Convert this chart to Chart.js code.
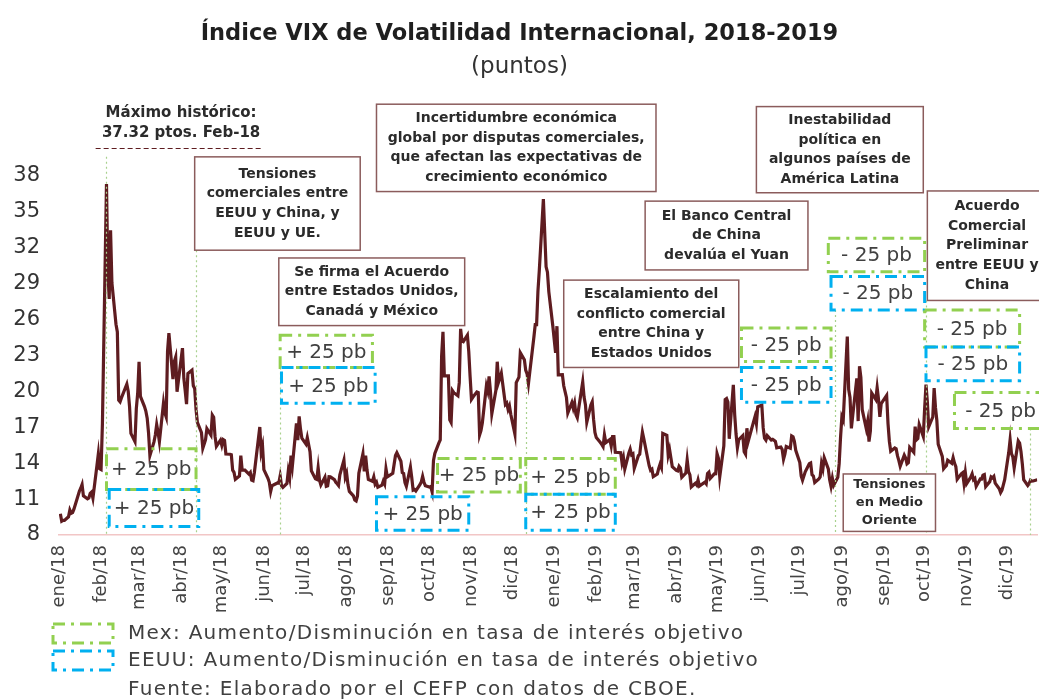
<!DOCTYPE html>
<html>
<head>
<meta charset="utf-8">
<script src="https://cdn.jsdelivr.net/npm/chart.js@4.4.1/dist/chart.umd.min.js"></script>
<style>
  html, body { margin: 0; padding: 0; background: #fff; }
  #wrap { width: 1039px; height: 700px; }
</style>
</head>
<body>
<div id="wrap"><canvas id="vix"></canvas></div>
<script>
// dias de cotizacion por mes (2018) y cierre del VIX
var dias2018 = [
  [2,3,4,5,8,9,10,11,12,16,17,18,19,22,23,24,25,26,29,30,31],
  [1,2,5,6,7,8,9,12,13,14,15,16,20,21,22,23,26,27,28],
  [1,2,5,6,7,8,9,12,13,14,15,16,19,20,21,22,23,26,27,28,29],
  [2,3,4,5,6,9,10,11,12,13,16,17,18,19,20,23,24,25,26,27,30],
  [1,2,3,4,7,8,9,10,11,14,15,16,17,18,21,22,23,24,25,29,30,31],
  [1,4,5,6,7,8,11,12,13,14,15,18,19,20,21,22,25,26,27,28,29],
  [2,3,5,6,9,10,11,12,13,16,17,18,19,20,23,24,25,26,27,30,31],
  [1,2,3,6,7,8,9,10,13,14,15,16,17,20,21,22,23,24,27,28,29,30,31],
  [4,5,6,7,10,11,12,13,14,17,18,19,20,21,24,25,26,27,28],
  [1,2,3,4,5,8,9,10,11,12,15,16,17,18,19,22,23,24,25,26,29,30,31],
  [1,2,5,6,7,8,9,12,13,14,15,16,19,20,21,23,26,27,28,29,30],
  [3,4,6,7,10,11,12,13,14,17,18,19,20,21,24,26,27,28,31]
];
var vix2018 = [
  [9.77,9.15,9.22,9.22,9.52,10.08,9.82,9.88,10.16,11.66,11.91,12.22,11.27,11.03,11.10,11.47,11.58,11.08,13.84,14.79,13.54],
  [13.47,17.31,37.32,29.98,27.73,33.46,29.06,25.61,24.97,19.26,19.13,19.46,20.60,20.02,18.72,16.49,15.80,18.59,19.85],
  [22.47,19.59,18.73,18.36,17.76,16.54,14.64,15.78,16.35,17.23,16.59,15.80,19.02,18.20,17.86,23.34,24.87,21.03,22.50,22.87,19.97],
  [23.62,21.10,20.06,18.94,21.49,21.77,20.47,20.24,18.49,17.41,16.56,15.25,15.60,15.96,16.88,16.34,18.02,17.84,16.24,15.41,15.93],
  [15.49,15.97,15.90,14.77,14.75,14.71,13.42,13.23,12.65,12.93,14.63,13.42,13.43,13.42,13.08,13.22,12.58,12.53,13.22,17.02,14.94,15.43],
  [13.46,12.74,12.40,11.64,12.13,12.18,12.35,12.34,12.94,12.12,11.98,12.31,13.35,12.79,14.64,13.77,17.33,15.92,17.91,16.85,16.09],
  [15.60,16.14,14.97,13.37,12.69,12.64,13.63,12.58,12.18,12.83,12.06,12.10,12.87,12.86,12.62,12.41,12.29,12.14,13.03,14.26,12.83],
  [13.15,12.19,11.64,11.27,10.93,10.85,11.27,13.16,14.78,13.31,14.64,13.45,12.64,12.49,12.86,12.25,12.41,11.99,12.16,12.50,12.25,13.53,12.86],
  [13.16,13.91,14.65,14.88,14.16,13.22,13.14,12.37,12.07,13.68,12.79,11.75,11.80,11.68,12.20,12.42,12.89,12.41,12.12],
  [12.00,12.05,11.61,14.22,14.82,15.69,15.95,22.96,24.98,21.31,21.30,17.62,17.40,20.06,19.89,19.64,20.71,25.23,24.22,24.16,24.70,23.35,21.23],
  [19.34,19.51,19.96,19.91,16.36,16.72,17.36,20.45,20.02,21.25,19.98,18.14,20.10,22.48,20.80,21.52,18.90,19.02,18.49,18.79,18.07],
  [16.44,20.74,21.19,23.23,22.64,21.76,21.46,20.65,21.63,24.52,25.58,25.58,28.38,30.11,36.07,30.41,29.96,28.34,25.42]
];

// 2019
var dias2019 = [
  [2,3,4,7,8,9,10,11,14,15,16,17,18,22,23,24,25,28,29,30,31],
  [1,4,5,6,7,8,11,12,13,14,15,19,20,21,22,25,26,27,28],
  [1,4,5,6,7,8,11,12,13,14,15,18,19,20,21,22,25,26,27,28,29],
  [1,2,3,4,5,8,9,10,11,12,15,16,17,18,22,23,24,25,26,29,30],
  [1,2,3,6,7,8,9,10,13,14,15,16,17,20,21,22,23,24,28,29,30,31],
  [3,4,5,6,7,10,11,12,13,14,17,18,19,20,21,24,25,26,27,28],
  [1,2,3,5,8,9,10,11,12,15,16,17,18,19,22,23,24,25,26,29,30,31],
  [1,2,5,6,7,8,9,12,13,14,15,16,19,20,21,22,23,26,27,28,29,30],
  [3,4,5,6,9,10,11,12,13,16,17,18,19,20,23,24,25,26,27,30],
  [1,2,3,4,7,8,9,10,11,14,15,16,17,18,21,22,23,24,25,28,29,30,31],
  [1,4,5,6,7,8,11,12,13,14,15,18,19,20,21,22,25,26,27,29],
  [2,3,4,5,6,9,10,11,12,13,16,17,18,19,20,23,24,26,27,30,31]
];
var vix2019 = [
  [23.22,25.45,21.38,21.40,20.47,19.98,19.50,18.19,19.07,18.60,19.04,18.06,17.80,20.80,19.52,18.89,17.42,18.87,19.13,17.66,16.57],
  [16.14,15.73,15.57,15.38,16.37,15.72,15.97,15.43,16.22,16.22,14.91,14.88,14.02,14.46,13.51,14.85,15.17,14.70,14.78],
  [13.57,14.63,14.74,15.74,16.59,16.05,14.33,13.77,13.41,13.50,12.88,13.10,13.56,13.91,13.63,16.48,16.33,14.68,15.15,14.43,13.71],
  [13.40,13.36,13.74,13.58,12.82,13.18,14.28,13.30,13.02,12.01,12.32,12.18,12.60,12.09,12.42,12.28,13.14,13.25,12.73,13.11,13.12],
  [14.80,14.42,12.87,15.44,19.32,19.40,19.10,16.04,20.55,18.06,16.44,15.29,15.96,16.31,14.95,14.75,16.92,15.85,17.50,17.90,17.30,18.71],
  [18.86,16.97,16.09,15.93,16.30,15.94,15.99,15.91,15.82,15.28,15.35,15.15,14.33,14.75,15.40,15.26,16.28,16.21,15.82,15.08],
  [14.06,12.93,12.57,13.28,13.96,14.02,13.03,12.93,12.39,12.68,12.86,13.97,13.53,14.45,13.53,12.61,12.07,12.74,12.16,12.83,13.94,16.12],
  [17.87,17.61,24.59,20.17,19.49,16.91,17.97,21.09,17.52,22.10,21.18,18.47,16.88,17.50,15.80,16.68,19.87,19.32,20.31,19.35,17.88,18.98],
  [19.66,17.33,15.82,15.00,15.27,15.20,14.61,14.22,13.74,14.67,14.44,13.95,14.05,15.32,14.91,17.05,15.96,16.07,17.22,16.24],
  [18.56,20.56,19.12,17.04,17.86,20.28,18.64,17.57,15.58,14.57,13.54,13.68,13.79,14.25,14.00,14.46,14.01,13.71,12.65,13.11,13.20,12.33,13.22],
  [12.30,12.83,13.10,12.62,12.73,12.07,12.69,12.68,13.00,13.05,12.05,12.46,12.86,12.78,12.90,12.34,11.87,11.54,11.75,12.62],
  [14.91,15.96,14.80,14.52,13.62,15.86,15.68,14.99,13.94,12.63,12.14,12.29,12.58,12.50,12.51,12.61,12.67,12.65,13.43,14.82,13.78]
];

var etiquetasMes = ['ene/18','feb/18','mar/18','abr/18','may/18','jun/18','jul/18','ago/18','sep/18','oct/18','nov/18','dic/18',
  'ene/19','feb/19','mar/19','abr/19','may/19','jun/19','jul/19','ago/19','sep/19','oct/19','nov/19','dic/19'];

// cambios de tasa (Mex verde, EEUU azul)
var tasas = [
  { pais: 'mex',  txt: '+ 25 pb', de: '2018-02-05', a: '2018-04-12', sup: 15.2, inf: 11.8 },
  { pais: 'eeuu', txt: '+ 25 pb', de: '2018-02-07', a: '2018-04-14', sup: 11.8, inf: 8.7 },
  { pais: 'mex',  txt: '+ 25 pb', de: '2018-06-13', a: '2018-08-20', sup: 24.7, inf: 22.0 },
  { pais: 'eeuu', txt: '+ 25 pb', de: '2018-06-14', a: '2018-08-22', sup: 22.0, inf: 19.0 },
  { pais: 'mex',  txt: '+ 25 pb', de: '2018-10-07', a: '2018-12-07', sup: 14.4, inf: 11.6 },
  { pais: 'eeuu', txt: '+ 25 pb', de: '2018-08-23', a: '2018-10-30', sup: 11.2, inf: 8.4 },
  { pais: 'mex',  txt: '+ 25 pb', de: '2018-12-11', a: '2019-02-15', sup: 14.4, inf: 11.4 },
  { pais: 'eeuu', txt: '+ 25 pb', de: '2018-12-11', a: '2019-02-15', sup: 11.4, inf: 8.4 },
  { pais: 'mex',  txt: '- 25 pb', de: '2019-05-19', a: '2019-07-24', sup: 25.3, inf: 22.5 },
  { pais: 'eeuu', txt: '- 25 pb', de: '2019-05-19', a: '2019-07-24', sup: 22.0, inf: 19.1 },
  { pais: 'mex',  txt: '- 25 pb', de: '2019-07-22', a: '2019-10-01', sup: 32.8, inf: 30.0 },
  { pais: 'eeuu', txt: '- 25 pb', de: '2019-07-24', a: '2019-10-01', sup: 29.6, inf: 26.8 },
  { pais: 'mex',  txt: '- 25 pb', de: '2019-10-01', a: '2019-12-10', sup: 26.8, inf: 23.7 },
  { pais: 'eeuu', txt: '- 25 pb', de: '2019-10-02', a: '2019-12-10', sup: 23.7, inf: 20.9 },
  { pais: 'mex',  txt: '- 25 pb', de: '2019-10-23', a: '2019-12-30', sup: 19.9, inf: 16.9 }
];

// recuadros de eventos
var eventos = [
  { txt: ['Tensiones','comerciales entre','EEUU y China, y','EEUU y UE.'], de: '2018-04-11', a: '2018-08-11', sup: 39.6, inf: 31.8 },
  { txt: ['Se firma el Acuerdo','entre Estados Unidos,','Canadá y México'], de: '2018-06-12', a: '2018-10-27', sup: 31.15, inf: 25.5 },
  { txt: ['Incertidumbre económica','global por disputas comerciales,','que afectan las expectativas de','crecimiento económico'], de: '2018-08-23', a: '2019-03-17', sup: 44.0, inf: 36.7 },
  { txt: ['El Banco Central','de China','devalúa el Yuan'], de: '2019-03-09', a: '2019-07-07', sup: 35.9, inf: 30.15 },
  { txt: ['Escalamiento del','conflicto comercial','entre China y','Estados Unidos'], de: '2019-01-08', a: '2019-05-17', sup: 29.3, inf: 22.0 },
  { txt: ['Inestabilidad','política en','algunos países de','América Latina'], de: '2019-05-30', a: '2019-09-30', sup: 43.8, inf: 36.6 },
  { txt: ['Acuerdo','Comercial','Preliminar','entre EEUU y','China'], de: '2019-10-03', a: '2019-12-30', sup: 36.75, inf: 27.6 },
  { txt: ['Tensiones','en Medio','Oriente'], de: '2019-08-02', a: '2019-10-09', sup: 13.1, inf: 8.3, chico: true }
];

// lineas verticales punteadas
var marcas = [
  { f: '2018-02-05', sup: 39.6 },
  { f: '2018-04-12', sup: 31.8 },
  { f: '2018-06-13', sup: 22.0 },
  { f: '2018-12-11', sup: 21.2 },
  { f: '2019-07-27', sup: 26.8 },
  { f: '2019-10-02', sup: 27.6 },
  { f: '2019-12-18', sup: 16.9 }
];

var t0 = Date.UTC(2018, 0, 1);
function diaDe(a, m, d) { return (Date.UTC(a, m, d) - t0) / 864e5; }
function fd(s) { return (Date.parse(s) - t0) / 864e5; }

function serie(anio, dias, vals) {
  var out = [];
  dias.forEach(function(mes, i) {
    mes.forEach(function(d, j) { out.push({ x: diaDe(anio, i, d), y: vals[i][j] }); });
  });
  return out;
}
var puntos = serie(2018, dias2018, vix2018).concat(serie(2019, dias2019, vix2019));
var ticksMes = etiquetasMes.map(function(e, i) { return diaDe(2018, i, 1); });

var FONT = 'DejaVu Sans';
var VERDE = '#92d050', AZUL = '#00b0f0', GUINDA = '#5e1c20', BORDE = '#8b5c5c';

var extras = {
  id: 'extras',
  afterDatasetsDraw: function(chart) {
    var ctx = chart.ctx, x = chart.scales.x, y = chart.scales.y;
    ctx.save();

    // verticales
    ctx.strokeStyle = '#a9d18e';
    ctx.lineWidth = 1.2;
    ctx.setLineDash([2, 3]);
    marcas.forEach(function(m) {
      var px = Math.round(x.getPixelForValue(fd(m.f))) + 0.5;
      ctx.beginPath();
      ctx.moveTo(px, y.getPixelForValue(m.sup));
      ctx.lineTo(px, y.bottom);
      ctx.stroke();
    });

    // recuadros de eventos
    eventos.forEach(function(ev) {
      var x1 = x.getPixelForValue(fd(ev.de)), x2 = x.getPixelForValue(fd(ev.a));
      var y1 = y.getPixelForValue(ev.sup), y2 = y.getPixelForValue(ev.inf);
      ctx.setLineDash([]);
      ctx.fillStyle = '#fff';
      ctx.fillRect(x1, y1, x2 - x1, y2 - y1);
      ctx.strokeStyle = BORDE;
      ctx.lineWidth = 1.5;
      ctx.strokeRect(x1, y1, x2 - x1, y2 - y1);
      var fs = ev.chico ? 13 : 14, lh = ev.chico ? 18 : 19.6;
      ctx.font = 'bold ' + fs + 'px ' + FONT;
      ctx.fillStyle = '#2b2b2b';
      ctx.textAlign = 'center';
      ctx.textBaseline = 'middle';
      var cy = (y1 + y2) / 2 - (ev.txt.length - 1) * lh / 2;
      ev.txt.forEach(function(l, i) { ctx.fillText(l, (x1 + x2) / 2, cy + i * lh); });
    });

    // cambios de tasa
    tasas.forEach(function(t) {
      var x1 = x.getPixelForValue(fd(t.de)), x2 = x.getPixelForValue(fd(t.a));
      var y1 = y.getPixelForValue(t.sup), y2 = y.getPixelForValue(t.inf);
      ctx.strokeStyle = t.pais == 'mex' ? VERDE : AZUL;
      ctx.lineWidth = 3;
      ctx.setLineDash([12, 6, 3, 6]);
      ctx.strokeRect(x1, y1, x2 - x1, y2 - y1);
      ctx.font = '20px ' + FONT;
      ctx.fillStyle = '#404040';
      ctx.textAlign = 'center';
      ctx.textBaseline = 'middle';
      ctx.fillText(t.txt, (x1 + x2) / 2, (y1 + y2) / 2 + 1);
    });

    // maximo historico
    var xm = x.getPixelForValue(fd('2018-04-01'));
    ctx.font = 'bold 15px ' + FONT;
    ctx.fillStyle = '#2b2b2b';
    ctx.textAlign = 'center';
    ctx.textBaseline = 'middle';
    ctx.fillText('Máximo histórico:', xm, 113);
    ctx.fillText('37.32 ptos. Feb-18', xm, 133);
    ctx.strokeStyle = GUINDA;
    ctx.lineWidth = 1.2;
    ctx.setLineDash([5, 3]);
    ctx.beginPath();
    ctx.moveTo(x.getPixelForValue(fd('2018-01-28')), 148.5);
    ctx.lineTo(x.getPixelForValue(fd('2018-05-31')), 148.5);
    ctx.stroke();

    // leyenda
    ctx.letterSpacing = '1.3px';
    [[VERDE, 'Mex: Aumento/Disminución en tasa de interés objetivo', 624],
     [AZUL, 'EEUU: Aumento/Disminución en tasa de interés objetivo', 651]].forEach(function(l) {
      ctx.strokeStyle = l[0];
      ctx.lineWidth = 3;
      ctx.setLineDash([12, 6, 3, 6]);
      ctx.strokeRect(53, l[2], 60, 19);
      ctx.font = '20px ' + FONT;
      ctx.fillStyle = '#404040';
      ctx.textAlign = 'left';
      ctx.textBaseline = 'middle';
      ctx.fillText(l[1], 128, l[2] + 10);
    });
    ctx.fillText('Fuente: Elaborado por el CEFP con datos de CBOE.', 128, 690);
    ctx.letterSpacing = '0px';
    ctx.restore();
  }
};

new Chart(document.getElementById('vix'), {
  type: 'line',
  data: {
    datasets: [{
      label: 'VIX',
      data: puntos,
      borderColor: GUINDA,
      borderWidth: 3.2,
      pointRadius: 0,
      tension: 0
    }]
  },
  options: {
    responsive: true,
    maintainAspectRatio: false,
    animation: false,
    layout: { padding: 0 },
    plugins: {
      legend: { display: false },
      tooltip: { enabled: false },
      title: {
        display: true,
        text: 'Índice VIX de Volatilidad Internacional, 2018-2019',
        color: '#1f1f1f',
        font: { family: FONT, size: 22.5, weight: 'bold' },
        padding: { top: 21, bottom: 5 }
      },
      subtitle: {
        display: true,
        text: '(puntos)',
        color: '#333',
        font: { family: FONT, size: 23 },
        padding: { top: 0, bottom: 95.4 }
      }
    },
    scales: {
      x: {
        type: 'linear',
        min: 0,
        max: 721,
        grid: { display: false, drawTicks: false },
        border: { display: true, color: '#f2c6c6', width: 1.5 },
        afterBuildTicks: function(s) { s.ticks = ticksMes.map(function(v) { return { value: v }; }); },
        afterFit: function(s) { s.height = 165; },
        ticks: {
          autoSkip: false,
          minRotation: 90,
          maxRotation: 90,
          padding: 10,
          color: '#444',
          font: { family: FONT, size: 18 },
          callback: function(v, i) { return etiquetasMes[i]; }
        }
      },
      y: {
        min: 8,
        max: 38,
        grid: { display: false, drawTicks: false },
        border: { display: false },
        afterFit: function(s) { s.width = 59; },
        ticks: {
          stepSize: 3,
          padding: 19,
          color: '#333',
          font: { family: FONT, size: 21 }
        }
      }
    }
  },
  plugins: [extras]
});
</script>
</body>
</html>
